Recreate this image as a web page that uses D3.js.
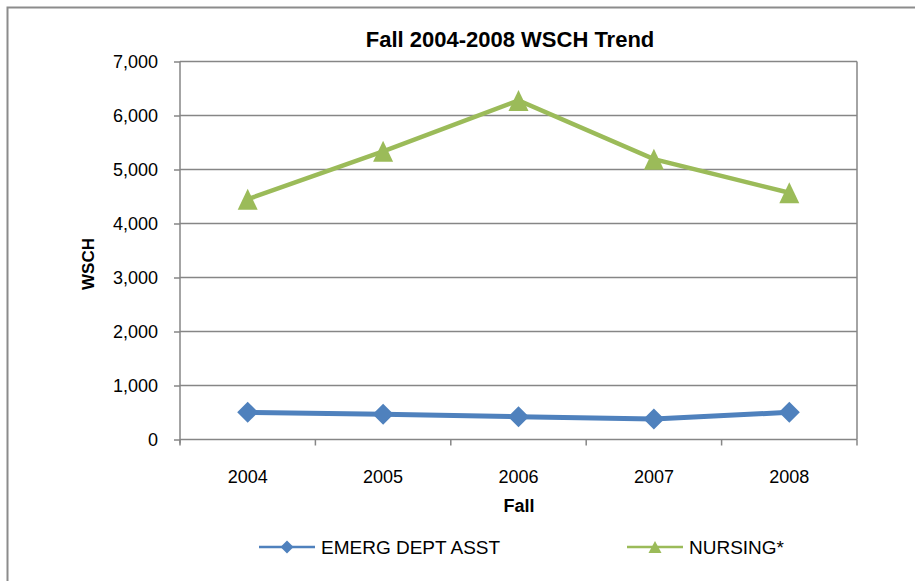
<!DOCTYPE html>
<html>
<head>
<meta charset="utf-8">
<script src="https://d3js.org/d3.v7.min.js"></script>
<style>
  body { margin: 0; background: white; }
  svg { font-family: 'Liberation Sans', Arial, sans-serif; }
  .grid line { stroke: #868686; stroke-width: 1.5px; }
  .axis path, .axis line { stroke: #868686; stroke-width: 1.5px; }
  .axis text { font-size: 18px; fill: #000; }
</style>
</head>
<body>
<svg width="915" height="581"></svg>
<script>
// chart data
var years = ['2004', '2005', '2006', '2007', '2008'];
var emergDeptAsst = [504, 467, 422, 380, 504];
var nursing = [4450, 5337, 6278, 5191, 4569];
var yTicks = [0, 1000, 2000, 3000, 4000, 5000, 6000, 7000];

var svg = d3.select('svg');

// outer chart frame (cut off at right/bottom like the source)
svg.append('rect')
  .attr('x', 7.5).attr('y', 7.5)
  .attr('width', 1000).attr('height', 1000)
  .attr('fill', 'none').attr('stroke', '#8c8c8c').attr('stroke-width', 2);

var plotL = 180, plotR = 857, plotT = 61.5, plotB = 439.5;

var x = d3.scaleBand().domain(years).range([plotL, plotR]);
var y = d3.scaleLinear().domain([0, 7000]).range([plotB, plotT]);

// gridlines
svg.append('g').attr('class', 'grid')
  .selectAll('line').data(yTicks.slice(1)).enter()
  .append('line')
  .attr('x1', plotL).attr('x2', plotR)
  .attr('y1', function (d) { return y(d); })
  .attr('y2', function (d) { return y(d); });

// right border of plot area
svg.append('line')
  .attr('x1', plotR).attr('x2', plotR).attr('y1', plotT).attr('y2', plotB)
  .attr('stroke', '#868686').attr('stroke-width', 1.5);

// y axis
var yAxis = svg.append('g').attr('class', 'axis')
  .attr('transform', 'translate(' + plotL + ',0)')
  .call(d3.axisLeft(y).tickValues(yTicks).tickSize(6).tickPadding(16)
    .tickFormat(d3.format(',')));
yAxis.select('.domain').attr('d', 'M0,' + plotT + 'V' + (plotB + 4));

// x axis, ticks on band edges
var xAxis = svg.append('g').attr('class', 'axis')
  .attr('transform', 'translate(0,' + plotB + ')');
xAxis.append('line').attr('x1', plotL).attr('x2', plotR).attr('y1', 0).attr('y2', 0);
xAxis.selectAll('.tk').data(years.concat(['end'])).enter()
  .append('line')
  .attr('x1', function (d, i) { return plotL + i * x.bandwidth(); })
  .attr('x2', function (d, i) { return plotL + i * x.bandwidth(); })
  .attr('y1', 0).attr('y2', 6);
xAxis.selectAll('text').data(years).enter()
  .append('text')
  .attr('x', function (d) { return x(d) + x.bandwidth() / 2; })
  .attr('y', 43)
  .attr('text-anchor', 'middle')
  .text(function (d) { return d; });

// titles
svg.append('text')
  .attr('x', 510).attr('y', 47)
  .attr('text-anchor', 'middle')
  .style('font-size', '22px').style('font-weight', 'bold')
  .text('Fall 2004-2008 WSCH Trend');
svg.append('text')
  .attr('transform', 'translate(94,264) rotate(-90)')
  .attr('text-anchor', 'middle')
  .style('font-size', '17px').style('font-weight', 'bold')
  .text('WSCH');
svg.append('text')
  .attr('x', 519).attr('y', 512)
  .attr('text-anchor', 'middle')
  .style('font-size', '18px').style('font-weight', 'bold')
  .text('Fall');

var blue = '#4F81BD', green = '#9BBB59';
var cx = function (d, i) { return x(years[i]) + x.bandwidth() / 2; };
var line = d3.line().x(cx).y(function (d) { return y(d); });

function diamond(s) { return 'M0,' + (-s) + 'L' + s + ',0L0,' + s + 'L' + (-s) + ',0Z'; }
function triangle(w, h) { return 'M0,' + (-h / 2) + 'L' + (w / 2) + ',' + (h / 2) + 'L' + (-w / 2) + ',' + (h / 2) + 'Z'; }

// nursing series
svg.append('path').datum(nursing)
  .attr('d', line).attr('fill', 'none')
  .attr('stroke', green).attr('stroke-width', 4.5);
svg.selectAll('.tri').data(nursing).enter()
  .append('path')
  .attr('transform', function (d, i) { return 'translate(' + cx(d, i) + ',' + y(d) + ')'; })
  .attr('d', triangle(20, 21)).attr('fill', green);

// emerg dept asst series
svg.append('path').datum(emergDeptAsst)
  .attr('d', line).attr('fill', 'none')
  .attr('stroke', blue).attr('stroke-width', 5);
svg.selectAll('.dia').data(emergDeptAsst).enter()
  .append('path')
  .attr('transform', function (d, i) { return 'translate(' + cx(d, i) + ',' + y(d) + ')'; })
  .attr('d', diamond(10.5)).attr('fill', blue);

// legend
var legend = [
  { name: 'EMERG DEPT ASST', color: blue, mark: diamond(6.5), x: 259 },
  { name: 'NURSING*', color: green, mark: triangle(13, 12), x: 627 }
];
var lg = svg.selectAll('.lg').data(legend).enter()
  .append('g').attr('transform', function (d) { return 'translate(' + d.x + ',547)'; });
lg.append('line').attr('x1', 0).attr('x2', 56).attr('y1', 0).attr('y2', 0)
  .attr('stroke', function (d) { return d.color; }).attr('stroke-width', 2.5);
lg.append('path').attr('transform', 'translate(28,0)')
  .attr('d', function (d) { return d.mark; })
  .attr('fill', function (d) { return d.color; });
lg.append('text').attr('x', 62).attr('y', 7)
  .style('font-size', '19px')
  .text(function (d) { return d.name; });
</script>
</body>
</html>
